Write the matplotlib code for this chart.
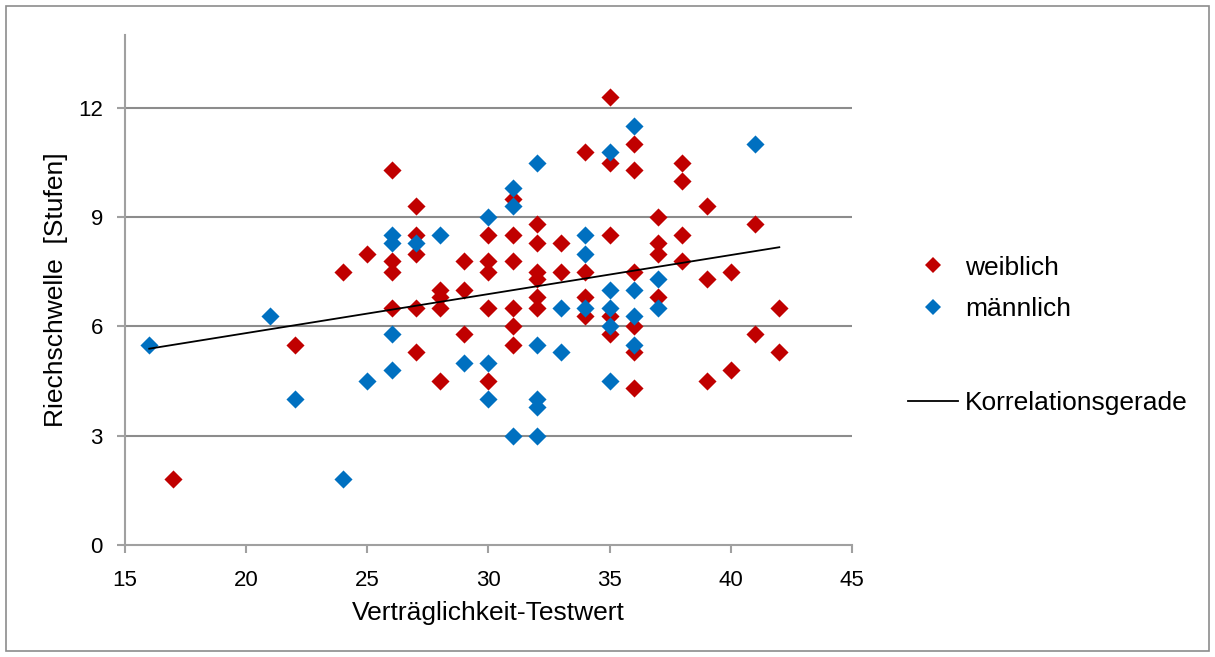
import numpy as np
import matplotlib
matplotlib.use("Agg")
import matplotlib.pyplot as plt
from matplotlib.lines import Line2D
from matplotlib.patches import Rectangle

plt.rcParams['font.family'] = ['Liberation Sans', 'DejaVu Sans']

# ---- data ----
w_x = [17, 22, 24, 25,
       26, 26, 26, 26,
       27, 27, 27, 27, 27,
       28, 28, 28, 28,
       29, 29, 29,
       30, 30, 30, 30, 30,
       31, 31, 31, 31, 31, 31,
       32, 32, 32, 32, 32, 32,
       33, 33,
       34, 34, 34, 34,
       35, 35, 35, 35, 35,
       36, 36, 36, 36, 36, 36,
       37, 37, 37, 37,
       38, 38, 38, 38,
       39, 39, 39,
       40, 40,
       41, 41,
       42, 42]
w_y = [1.8, 5.5, 7.5, 8.0,
       10.3, 7.8, 7.5, 6.5,
       9.3, 8.5, 8.0, 6.5, 5.3,
       7.0, 6.8, 6.5, 4.5,
       7.8, 7.0, 5.8,
       8.5, 7.8, 7.5, 6.5, 4.5,
       9.5, 8.5, 7.8, 6.5, 6.0, 5.5,
       8.8, 8.3, 7.5, 7.3, 6.8, 6.5,
       8.3, 7.5,
       10.8, 7.5, 6.8, 6.3,
       12.3, 10.5, 8.5, 6.3, 5.8,
       11.0, 10.3, 7.5, 6.0, 5.3, 4.3,
       9.0, 8.3, 8.0, 6.8,
       10.5, 10.0, 8.5, 7.8,
       9.3, 7.3, 4.5,
       7.5, 4.8,
       8.8, 5.8,
       6.5, 5.3]

m_x = [16, 21, 22, 24, 25,
       26, 26, 26, 26,
       27, 28, 29,
       30, 30, 30,
       31, 31, 31,
       32, 32, 32, 32, 32,
       33, 33,
       34, 34, 34,
       35, 35, 35, 35, 35,
       36, 36, 36, 36,
       37, 37,
       41]
m_y = [5.5, 6.3, 4.0, 1.8, 4.5,
       8.5, 8.3, 5.8, 4.8,
       8.3, 8.5, 5.0,
       9.0, 5.0, 4.0,
       9.8, 9.3, 3.0,
       10.5, 5.5, 4.0, 3.8, 3.0,
       6.5, 5.3,
       8.5, 8.0, 6.5,
       10.8, 7.0, 6.5, 6.0, 4.5,
       11.5, 7.0, 6.3, 5.5,
       7.3, 6.5,
       11.0]

x_ticks = [15, 20, 25, 30, 35, 40, 45]
y_ticks = [0, 3, 6, 9, 12]

RED = '#C00000'
BLUE = '#0070C0'
GRID = '#8C8C8C'

W, H = 1215, 657
fig = plt.figure(figsize=(W / 100, H / 100), dpi=100)
ax = fig.add_axes([125 / W, 1 - 545 / H, (852 - 125) / W, (545 - 35) / H])

ax.set_xlim(15, 45)
ax.set_ylim(0, 14)
ax.set_xticks(x_ticks)
ax.set_yticks(y_ticks)

for v in y_ticks[1:]:
    ax.axhline(v, color=GRID, lw=1.5, zorder=1)

ax.scatter(w_x, w_y, marker='D', s=85, color=RED, linewidths=0, zorder=3)
ax.scatter(m_x, m_y, marker='D', s=85, color=BLUE, linewidths=0, zorder=4)

# correlation line (least squares fit over all points)
all_x = np.array(w_x + m_x, dtype=float)
all_y = np.array(w_y + m_y, dtype=float)
k, d = np.polyfit(all_x, all_y, 1)
xr = np.array([all_x.min(), all_x.max()])
ax.plot(xr, k * xr + d, color='black', lw=1.3, zorder=5)

for s in ['top', 'right']:
    ax.spines[s].set_visible(False)
for s in ['left', 'bottom']:
    ax.spines[s].set_color('#A0A0A0')
    ax.spines[s].set_linewidth(1.5)
ax.tick_params(axis='both', colors='#A0A0A0', width=1.5, length=6,
               labelcolor='black', labelsize=16)
ax.tick_params(axis='y', pad=10)
ax.tick_params(axis='x', pad=12)

ax.set_xlabel('Verträglichkeit-Testwert', fontsize=19, labelpad=7)
ax.set_ylabel('Riechschwelle  [Stufen]', fontsize=19, labelpad=7)

h1 = Line2D([], [], marker='D', ls='none', color=RED, markersize=8, markeredgewidth=0)
h2 = Line2D([], [], marker='D', ls='none', color=BLUE, markersize=8, markeredgewidth=0)
leg1 = ax.legend([h1, h2], ['weiblich', 'männlich'], loc='center left',
                 bbox_to_anchor=(921 / W, 1 - 288.5 / H), bbox_transform=fig.transFigure,
                 frameon=False, fontsize=19, handlelength=0.9, handletextpad=0.76,
                 labelspacing=0.68, borderpad=0, borderaxespad=0)
ax.add_artist(leg1)
h3 = Line2D([], [], color='black', lw=1.3)
ax.legend([h3], ['Korrelationsgerade'], loc='center left',
          bbox_to_anchor=(908 / W, 1 - 403 / H), bbox_transform=fig.transFigure,
          frameon=False, fontsize=19, handlelength=1.9, handletextpad=0.27,
          borderpad=0, borderaxespad=0)

fig.patches.append(Rectangle((6 / W, 1 - 651 / H), (1209 - 6) / W, (651 - 6) / H,
                             transform=fig.transFigure, fill=False,
                             edgecolor='#8C8C8C', lw=1.2))

fig.savefig('out.png', dpi=100)
